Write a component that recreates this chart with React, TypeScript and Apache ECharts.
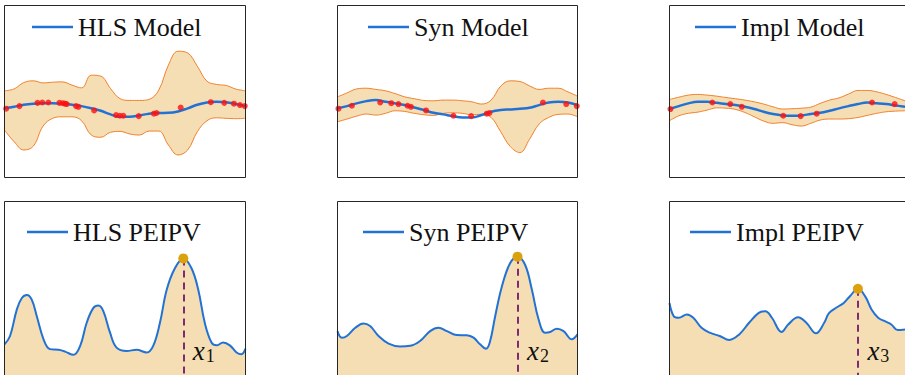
import React, { useEffect, useRef } from 'react';
import * as echarts from 'echarts';

// ---------- data ----------
const xGrid = [0, 0.4, 0.8, 1.2, 1.6, 2, 2.4, 2.8, 3.2, 3.6, 4, 4.4, 4.8, 5.2, 5.6, 6, 6.4, 6.8, 7.2, 7.6, 8, 8.4, 8.8, 9.2, 9.6, 10];

const hlsUpper = [5.04, 5.15, 5.52, 5.62, 5.5, 5.54, 5.56, 5.37, 5.21, 5.95, 5.89, 5.17, 4.58, 4.48, 4.48, 4.54, 5.08, 6.53, 7.34, 7.24, 6.47, 5.6, 5.41, 5.35, 5.14, 5.04];
const hlsLower = [2.76, 2.08, 1.6, 1.83, 2.99, 3.44, 3.53, 3.53, 3.3, 2.47, 2.34, 2.63, 2.68, 2.53, 2.47, 2.7, 2.7, 1.89, 1.31, 1.6, 2.66, 3.3, 3.47, 3.44, 3.42, 3.44];
const hlsMean = [4.02, 4.11, 4.23, 4.29, 4.31, 4.31, 4.29, 4.23, 4.15, 4.03, 3.88, 3.67, 3.53, 3.53, 3.61, 3.71, 3.75, 3.76, 3.84, 4.02, 4.23, 4.36, 4.4, 4.38, 4.27, 4.15];
const hlsObs = [[0.07, 4.0], [0.62, 4.15], [1.37, 4.34], [1.57, 4.36], [1.82, 4.36], [2.28, 4.34], [2.42, 4.32], [2.51, 4.29], [2.58, 4.27], [2.97, 4.15], [3.07, 4.11], [3.72, 3.9], [4.63, 3.63], [4.79, 3.59], [4.93, 3.59], [5.57, 3.57], [6.2, 3.71], [6.31, 3.75], [7.31, 4.07], [8.56, 4.38], [9.12, 4.34], [9.52, 4.29], [9.77, 4.21], [9.97, 4.15]];

const synUpper = [4.69, 4.92, 5.15, 5.19, 5.12, 5.04, 4.88, 4.69, 4.58, 4.48, 4.46, 4.5, 4.5, 4.46, 4.4, 4.27, 4.5, 5.31, 5.62, 5.58, 5.33, 5.12, 5.19, 5.19, 4.98, 4.73];
const synLower = [3.24, 3.4, 3.57, 3.69, 3.63, 3.73, 3.88, 3.84, 3.73, 3.65, 3.61, 3.73, 3.76, 3.73, 3.65, 3.67, 3.49, 2.66, 1.8, 1.45, 2.22, 3.11, 3.49, 3.67, 3.69, 3.53];
const synMean = [4.02, 4.15, 4.31, 4.44, 4.5, 4.4, 4.31, 4.21, 4.07, 3.92, 3.76, 3.67, 3.57, 3.49, 3.49, 3.63, 3.82, 3.92, 3.96, 4.0, 4.05, 4.21, 4.36, 4.4, 4.36, 4.21];
const synObs = [[0.04, 4.0], [0.6, 4.17], [1.78, 4.36], [2.24, 4.32], [2.54, 4.27], [2.92, 4.17], [3.06, 4.11], [3.69, 3.9], [4.83, 3.59], [5.57, 3.57], [6.22, 3.71], [6.33, 3.75], [8.56, 4.36], [9.53, 4.27], [9.97, 4.15]];

const implUpper = [4.54, 4.67, 4.79, 4.83, 4.79, 4.73, 4.65, 4.58, 4.5, 4.4, 4.27, 4.11, 3.98, 4.0, 4.03, 4.09, 4.31, 4.5, 4.63, 4.85, 5.06, 5.06, 4.98, 4.83, 4.65, 4.46];
const implLower = [3.3, 3.59, 3.73, 3.8, 3.92, 4.05, 4.03, 3.96, 3.78, 3.53, 3.28, 3.15, 3.19, 3.07, 2.99, 3.15, 3.34, 3.4, 3.4, 3.42, 3.49, 3.61, 3.73, 3.82, 3.86, 3.88];
const implMean = [3.98, 4.15, 4.31, 4.4, 4.4, 4.34, 4.27, 4.21, 4.11, 3.98, 3.82, 3.69, 3.61, 3.59, 3.61, 3.69, 3.76, 3.88, 4.02, 4.15, 4.27, 4.36, 4.32, 4.27, 4.19, 4.11];
const implObs = [[0.04, 3.98], [1.82, 4.36], [2.58, 4.27], [3.07, 4.11], [4.83, 3.59], [5.57, 3.57], [6.25, 3.71], [8.6, 4.36], [9.56, 4.27]];

const hlsAcq = [[0, 1.77], [0.23, 2.25], [0.51, 3.77], [0.72, 4.44], [0.93, 4.61], [1.13, 4.34], [1.34, 3.39], [1.62, 2.06], [1.89, 1.49], [2.24, 1.45], [2.51, 1.35], [2.86, 1.16], [3.14, 1.68], [3.41, 3.01], [3.69, 3.87], [3.9, 4.0], [4.1, 3.68], [4.38, 2.44], [4.65, 1.58], [5.07, 1.39], [5.48, 1.45], [5.9, 1.3], [6.17, 1.68], [6.45, 3.01], [6.73, 4.91], [7.07, 6.15], [7.42, 6.72], [7.76, 6.15], [8.04, 4.91], [8.31, 3.01], [8.59, 1.87], [8.8, 1.71], [9.07, 1.87], [9.35, 1.71], [9.63, 1.3], [9.83, 1.2], [10, 1.52]];
const synAcq = [[0, 2.53], [0.18, 2.15], [0.39, 2.25], [0.74, 2.72], [1.08, 2.97], [1.36, 2.82], [1.71, 2.25], [2.13, 1.81], [2.61, 1.64], [3.03, 1.68], [3.44, 1.96], [3.86, 2.53], [4.21, 2.72], [4.56, 2.53], [4.97, 2.3], [5.39, 2.29], [5.67, 2.15], [5.94, 1.77], [6.19, 1.52], [6.36, 1.96], [6.57, 3.39], [6.85, 5.1], [7.19, 6.44], [7.5, 6.82], [7.82, 6.34], [8.1, 4.91], [8.38, 3.2], [8.65, 2.44], [8.86, 2.48], [9.14, 2.67], [9.42, 2.53], [9.76, 2.06], [10, 2.34]];
const implAcq = [[0, 4.15], [0.18, 3.39], [0.39, 3.3], [0.74, 3.49], [1.01, 3.3], [1.36, 2.72], [1.71, 2.44], [2.13, 2.25], [2.54, 2.02], [2.96, 2.34], [3.38, 3.01], [3.79, 3.58], [4.07, 3.68], [4.35, 3.3], [4.76, 2.48], [5.04, 2.91], [5.46, 3.33], [5.81, 3.01], [6.22, 2.4], [6.57, 3.01], [6.78, 3.58], [7.13, 3.92], [7.4, 4.15], [7.68, 4.57], [8.0, 4.97], [8.31, 4.53], [8.58, 3.77], [8.86, 3.3], [9.14, 3.1], [9.42, 2.91], [9.69, 2.59], [10, 2.63]];

const modelNames = ['HLS Model', 'Syn Model', 'Impl Model'];
const acqNames = ['HLS PEIPV', 'Syn PEIPV', 'Impl PEIPV'];
const pickSubscripts = ['1', '2', '3'];

// ---------- style ----------
const BLUE = '#2272d6';
const ORANGE = '#f2812c';
const WHEAT = '#f5deb3';
const RED = '#ff1010';
const GOLD = '#dba10f';
const PURPLE = '#7e2b6f';
const FONT = 'Liberation Serif';

const colLeft = [4.5, 337.5, 669.5];
const colWidth = [241, 240, 240];
const rowTop = [5.5, 201.5];
const rowHeight = [172, 175];
const legendLeft = [[32, 368, 695], [27, 363, 690]];
const legendTop = [12, 217];

export default function App() {
  const ref = useRef<HTMLDivElement>(null);
  useEffect(() => {
    const chart = echarts.init(ref.current as HTMLDivElement, null, { renderer: 'svg' });
    const models = [
      { upper: hlsUpper, lower: hlsLower, mean: hlsMean, obs: hlsObs },
      { upper: synUpper, lower: synLower, mean: synMean, obs: synObs },
      { upper: implUpper, lower: implLower, mean: implMean, obs: implObs },
    ];
    const acqs = [hlsAcq, synAcq, implAcq];

    const grid: any[] = [];
    const xAxis: any[] = [];
    const yAxis: any[] = [];
    const graphic: any[] = [];
    const legend: any[] = [];
    const series: any[] = [];

    for (let r = 0; r < 2; r++) {
      for (let c = 0; c < 3; c++) {
        const gi = r * 3 + c;
        grid.push({ left: colLeft[c], top: rowTop[r], width: colWidth[c], height: rowHeight[r], show: false });
        xAxis.push({ type: 'value', gridIndex: gi, min: 0, max: 10, show: false });
        yAxis.push({ type: 'value', gridIndex: gi, min: 0, max: 10, show: false });
        graphic.push({
          type: 'rect', z: 100, silent: true,
          shape: { x: colLeft[c], y: rowTop[r], width: colWidth[c], height: rowHeight[r] },
          style: { fill: 'none', stroke: '#262626', lineWidth: 1 },
        });
        legend.push({
          data: [r === 0 ? modelNames[c] : acqNames[c]],
          left: legendLeft[r][c], top: legendTop[r], padding: 0,
          icon: 'rect', itemWidth: 41, itemHeight: 2.5, selectedMode: false,
          textStyle: { fontFamily: FONT, fontSize: 26, color: '#111', lineHeight: 30 },
        });
      }
    }

    models.forEach((m, c) => {
      const common = { type: 'line', xAxisIndex: c, yAxisIndex: c, smooth: 0.4, symbol: 'none', showSymbol: false, silent: true };
      // upper bound: fill wheat down to the axis floor
      series.push({
        ...common, name: modelNames[c] + ' upper', z: 1,
        data: xGrid.map((x, i) => [x, m.upper[i]]),
        lineStyle: { color: ORANGE, width: 1 },
        areaStyle: { color: WHEAT, opacity: 1, origin: 'start' },
      });
      // lower bound: blank out below it, leaving the band between bounds
      series.push({
        ...common, name: modelNames[c] + ' lower', z: 2,
        data: xGrid.map((x, i) => [x, m.lower[i]]),
        lineStyle: { color: ORANGE, width: 1 },
        areaStyle: { color: '#ffffff', opacity: 1, origin: 'start' },
      });
      series.push({
        ...common, name: modelNames[c], color: BLUE, z: 3,
        data: xGrid.map((x, i) => [x, m.mean[i]]),
        lineStyle: { color: BLUE, width: 2.5 },
      });
      series.push({
        type: 'scatter', name: modelNames[c] + ' obs', xAxisIndex: c, yAxisIndex: c, silent: true, z: 4,
        data: m.obs, symbolSize: 6, itemStyle: { color: RED },
      });
    });

    acqs.forEach((d, c) => {
      const gi = 3 + c;
      const peak = d.reduce((a, b) => (b[1] > a[1] ? b : a));
      series.push({
        type: 'line', name: acqNames[c], color: BLUE, xAxisIndex: gi, yAxisIndex: gi,
        smooth: 0.4, symbol: 'none', showSymbol: false, silent: true,
        data: d,
        lineStyle: { color: BLUE, width: 2 },
        areaStyle: { color: WHEAT, opacity: 1 },
        markLine: {
          silent: true, symbol: ['none', 'none'], animation: false,
          lineStyle: { color: PURPLE, width: 2, type: [7, 5] },
          label: { show: false },
          data: [[{ coord: [peak[0], peak[1]] }, { coord: [peak[0], 0] }]],
        },
        markPoint: {
          silent: true, animation: false,
          data: [
            { coord: [peak[0], peak[1]], symbol: 'circle', symbolSize: 10, itemStyle: { color: GOLD }, label: { show: false } },
            {
              coord: [peak[0], 0], symbol: 'circle', symbolSize: 1, itemStyle: { color: 'rgba(0,0,0,0)' },
              label: {
                show: true, position: [10, -38], formatter: '{x|x}{s|' + pickSubscripts[c] + '}',
                rich: {
                  x: { fontFamily: FONT, fontStyle: 'italic', fontSize: 27, lineHeight: 28, color: '#111' },
                  s: { fontFamily: FONT, fontSize: 18, lineHeight: 18, verticalAlign: 'bottom', color: '#111', padding: [0, 0, 0, 1] },
                },
              },
            },
          ],
        },
      });
    });

    chart.setOption({ animation: false, grid, xAxis, yAxis, legend, series, graphic });
    return () => chart.dispose();
  }, []);
  return <div ref={ref} style={{ position: 'absolute', left: 0, top: 0, width: 905, height: 375, background: '#fff' }} />;
}
